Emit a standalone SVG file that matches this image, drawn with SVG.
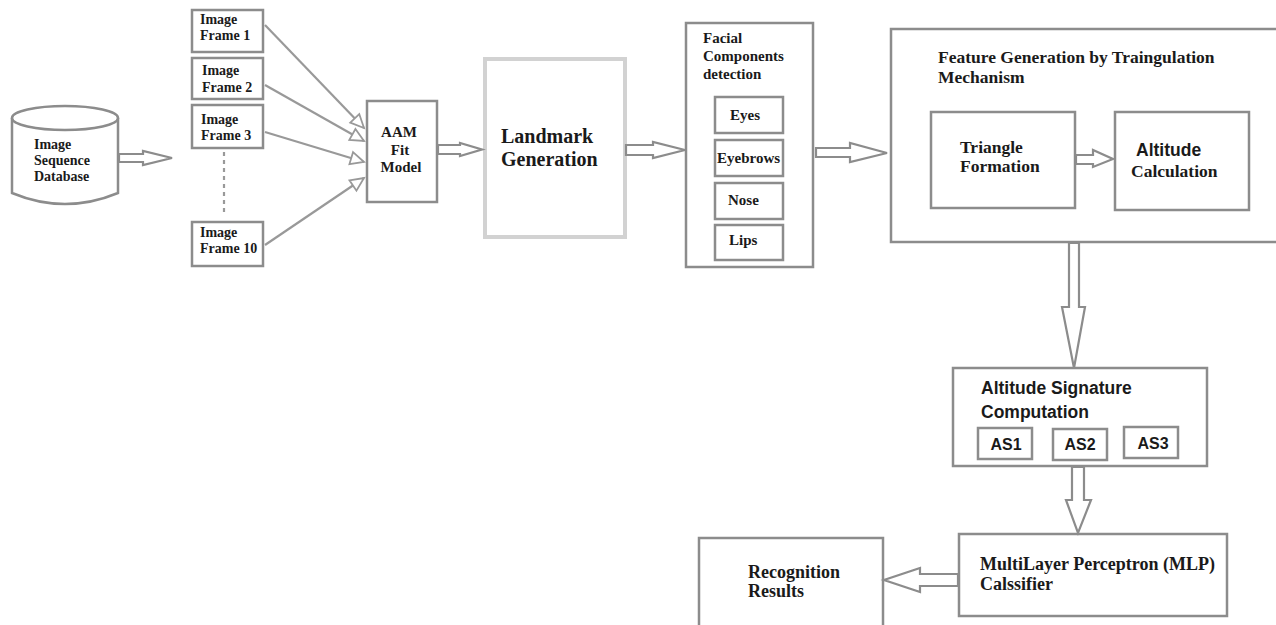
<svg xmlns="http://www.w3.org/2000/svg" width="1276" height="625" viewBox="0 0 1276 625">
<defs>
<style>
.box{fill:#fff;stroke:#8c8c8c;stroke-width:2.5}
.lbox{fill:#fff;stroke:#d2d2d2;stroke-width:4}
.blk{fill:#fff;stroke:#8c8c8c;stroke-width:2.2;stroke-linejoin:miter}
.ln{fill:none;stroke:#999;stroke-width:2.2}
.t{font-family:"Liberation Serif",serif;font-weight:bold;fill:#1a1a1a}
.s{font-family:"Liberation Sans",sans-serif;font-weight:bold;fill:#1a1a1a}
</style>
<marker id="oa" markerUnits="userSpaceOnUse" markerWidth="18" markerHeight="16" refX="15" refY="7" orient="auto" viewBox="-2 -2 19 18">
<path d="M0,0 L15,7 L0,14 Z" fill="#fff" stroke="#999" stroke-width="2"/>
</marker>
</defs>
<rect width="1276" height="625" fill="#fff"/>

<g id="database">
<path class="box" d="M12,118 L12,193 Q65,215 118,193 L118,118"/>
<ellipse class="box" cx="65" cy="118" rx="53" ry="12"/>
<text class="t" font-size="14"><tspan x="34" y="149">Image</tspan><tspan x="34" y="165">Sequence</tspan><tspan x="34" y="181">Database</tspan></text>
</g>

<g id="frame1">
<rect class="box" x="192" y="10" width="71" height="42"/>
<text class="t" font-size="14"><tspan x="200" y="24">Image</tspan><tspan x="200" y="40">Frame 1</tspan></text>
</g>
<g id="frame2">
<rect class="box" x="192" y="58" width="71" height="41"/>
<text class="t" font-size="14"><tspan x="202" y="75">Image</tspan><tspan x="202" y="92">Frame 2</tspan></text>
</g>
<g id="frame3">
<rect class="box" x="192" y="105" width="71" height="43"/>
<text class="t" font-size="14"><tspan x="201" y="124">Image</tspan><tspan x="201" y="140">Frame 3</tspan></text>
</g>
<g id="frame10">
<rect class="box" x="192" y="222" width="71" height="44"/>
<text class="t" font-size="14"><tspan x="200" y="237">Image</tspan><tspan x="200" y="253">Frame 10</tspan></text>
</g>

<g id="aam">
<rect class="box" x="367" y="101" width="70" height="101"/>
<text class="t" font-size="15" text-anchor="middle"><tspan x="399" y="137">AAM</tspan><tspan x="400" y="155">Fit</tspan><tspan x="401" y="172">Model</tspan></text>
</g>

<g id="landmark">
<rect class="lbox" x="485" y="59" width="140" height="178"/>
<text class="t" font-size="20"><tspan x="501" y="143">Landmark</tspan><tspan x="501" y="166">Generation</tspan></text>
</g>

<g id="facial">
<rect class="box" x="686" y="23" width="127" height="244"/>
<text class="t" font-size="15"><tspan x="703" y="43">Facial</tspan><tspan x="703" y="61">Components</tspan><tspan x="703" y="79">detection</tspan></text>
</g>
<g id="eyes">
<rect class="box" x="715" y="97" width="68" height="36"/>
<text class="t" font-size="15" x="730" y="120">Eyes</text>
</g>
<g id="eyebrows">
<rect class="box" x="715" y="140" width="68" height="36"/>
<text class="t" font-size="15" x="717" y="163">Eyebrows</text>
</g>
<g id="nose">
<rect class="box" x="715" y="183" width="68" height="36"/>
<text class="t" font-size="15" x="728" y="205">Nose</text>
</g>
<g id="lips">
<rect class="box" x="715" y="225" width="68" height="35"/>
<text class="t" font-size="15" x="729" y="245">Lips</text>
</g>

<g id="feature">
<rect class="box" x="891" y="29" width="390" height="213"/>
<text class="t" font-size="17.5"><tspan x="938" y="63">Feature Generation by Traingulation</tspan><tspan x="938" y="83">Mechanism</tspan></text>
</g>
<g id="triangle">
<rect class="box" x="931" y="112" width="144" height="96"/>
<text class="t" font-size="17.5"><tspan x="960" y="153">Triangle</tspan><tspan x="960" y="172">Formation</tspan></text>
</g>
<g id="altcalc">
<rect class="box" x="1115" y="112" width="134" height="98"/>
<text class="s" font-size="17.5" x="1136" y="156">Altitude</text>
<text class="t" font-size="17.5" x="1131" y="177">Calculation</text>
</g>

<g id="altsig">
<rect class="box" x="953" y="368" width="254" height="98"/>
<text class="s" font-size="17.5"><tspan x="981" y="394">Altitude Signature</tspan><tspan x="981" y="418">Computation</tspan></text>
</g>
<g id="as1">
<rect class="box" x="978" y="428" width="54" height="31" stroke-width="1.8"/>
<text class="s" font-size="16" x="1006" y="450" text-anchor="middle">AS1</text>
</g>
<g id="as2">
<rect class="box" x="1053" y="429" width="54" height="31" stroke-width="1.8"/>
<text class="s" font-size="16" x="1080" y="450" text-anchor="middle">AS2</text>
</g>
<g id="as3">
<rect class="box" x="1124" y="427" width="54" height="31" stroke-width="1.8"/>
<text class="s" font-size="16" x="1153" y="449" text-anchor="middle">AS3</text>
</g>

<g id="mlp">
<rect class="box" x="959" y="534" width="268" height="82"/>
<text class="t" font-size="18"><tspan x="980" y="570">MultiLayer Perceptron (MLP)</tspan><tspan x="980" y="590">Calssifier</tspan></text>
</g>

<g id="recognition">
<rect class="box" x="699" y="538" width="184" height="100"/>
<text class="t" font-size="18"><tspan x="748" y="578">Recognition</tspan><tspan x="748" y="597">Results</tspan></text>
</g>

<g id="connectors">
<line class="ln" x1="224" y1="152" x2="224" y2="216" stroke-dasharray="4,4"/>
<line class="ln" x1="265" y1="25" x2="364" y2="128" marker-end="url(#oa)"/>
<line class="ln" x1="265" y1="85" x2="364" y2="141" marker-end="url(#oa)"/>
<line class="ln" x1="265" y1="132" x2="364" y2="162" marker-end="url(#oa)"/>
<line class="ln" x1="265" y1="245" x2="364" y2="178" marker-end="url(#oa)"/>
<polygon class="blk" points="119,154 143,154 143,151 172,158 143,165 143,162 119,162"/>
<polygon class="blk" points="438,145 460,145 460,143 482,149.5 460,156 460,154 438,154"/>
<polygon class="blk" points="626,145 653,145 653,142 685,150 653,158 653,155 626,155"/>
<polygon class="blk" points="816,148 850,148 850,143 887,153 850,162 850,157 816,157"/>
<polygon class="blk" points="1076,155 1093,155 1093,150 1113,159 1093,167 1093,164 1076,164"/>
<polygon class="blk" points="1069,243 1079,243 1079,307 1085,307 1074,368 1062,307 1069,307"/>
<polygon class="blk" points="1072,467 1084,467 1084,500 1091,500 1078,533 1066,500 1072,500"/>
<polygon class="blk" points="958,574 920,574 920,568 884,580 920,592 920,586 958,586"/>
</g>
</svg>
